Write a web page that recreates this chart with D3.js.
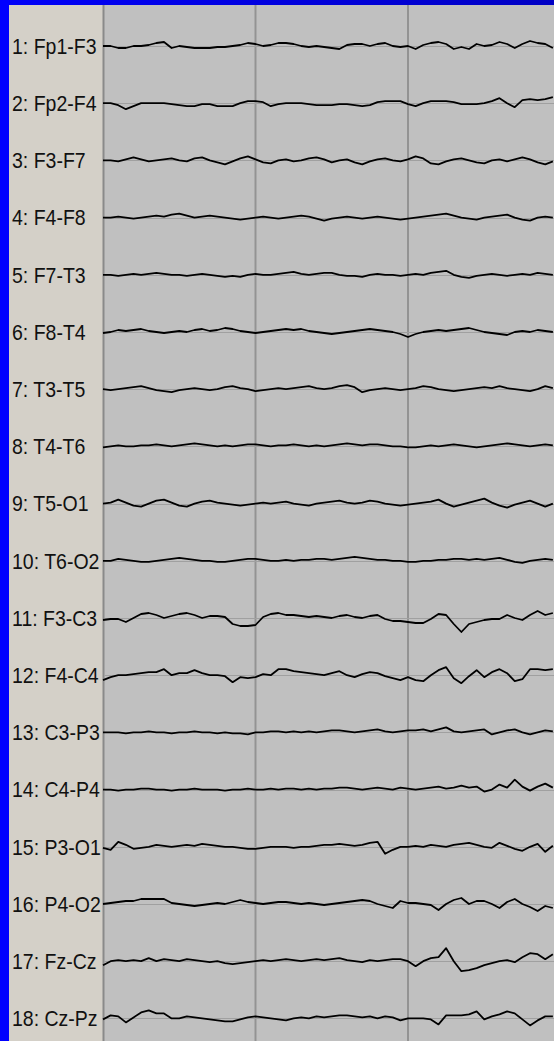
<!DOCTYPE html>
<html><head><meta charset="utf-8">
<script src="https://cdn.jsdelivr.net/npm/d3@7"></script>
<style>html,body{margin:0;padding:0;background:#c0c0c0;overflow:hidden}svg{display:block}</style>
</head><body><svg id="c" width="554" height="1041"></svg>
<script>
// Montage channel labels
const channels = ["1: Fp1-F3","2: Fp2-F4","3: F3-F7","4: F4-F8","5: F7-T3","6: F8-T4","7: T3-T5","8: T4-T6","9: T5-O1","10: T6-O2","11: F3-C3","12: F4-C4","13: C3-P3","14: C4-P4","15: P3-O1","16: P4-O2","17: Fz-Cz","18: Cz-Pz"];
// sampling interval (s) and second grid marks
const dt = 0.05;
const gridSeconds = [1, 2];
// Channel traces (µV, sample every dt seconds)
const ch1  = [0,0,-2,-2,0,0,1,3,4,-2,0,-1,-2,-2,-2,-1,-1,0,1,3,2,0,1,3,3,2,0,-1,0,-1,-2,-3,1,2,2,0,2,3,0,-1,0,-3,1,3,4,2,-3,-1,-3,2,0,1,4,2,-2,2,5,3,2,-2];
const ch2  = [0,0,-2,-6,-3,0,0,0,0,-1,-2,-3,-3,-1,-1,-3,-3,-3,0,2,2,1,-3,-1,0,0,0,-1,-2,-2,-2,-1,-1,-2,-3,-2,1,2,2,2,-1,-3,0,2,2,2,1,-1,-1,-1,0,2,5,0,-4,3,4,3,4,6];
const ch3  = [0,0,-1,1,3,1,-1,0,1,2,0,-1,2,3,0,-2,-4,-1,2,4,1,-2,-3,0,1,-1,0,2,3,1,-2,0,1,-2,-4,-1,1,2,0,-1,1,4,2,-3,-4,-1,1,2,0,-2,-3,0,1,-1,1,3,1,-2,-4,-1];
const ch4  = [0,0,1,0,-1,0,1,2,1,3,4,2,0,1,2,1,0,-1,-2,-1,0,1,0,-1,0,1,2,1,-1,-3,-1,0,1,0,-1,0,1,0,-1,-2,-1,0,1,2,3,4,2,0,-1,-2,0,1,2,3,0,-2,-3,0,1,0];
const ch5  = [0,0,-1,0,1,0,1,2,1,0,0,-1,0,1,0,-1,-2,-1,-2,0,1,0,0,1,2,3,1,0,1,2,2,0,-1,-1,-2,0,1,0,0,-1,0,1,0,2,3,4,0,-2,-3,-1,0,1,0,-1,0,1,0,2,1,0];
const ch6  = [-1,0,2,1,2,3,1,0,-1,0,1,0,2,3,1,2,4,3,1,0,-1,0,1,2,3,2,3,1,0,-1,-2,-1,0,1,2,3,2,1,0,-2,-5,-2,0,1,2,1,2,3,4,2,0,-1,-2,-3,0,1,0,2,1,0];
const ch7  = [0,-1,0,1,2,3,1,-1,-2,-3,-1,0,1,0,-1,0,2,3,1,0,-2,-1,0,1,0,1,2,3,1,0,1,3,4,2,-3,-1,0,1,0,-1,0,1,3,2,0,-1,-2,-1,0,1,2,1,3,1,0,-1,-2,0,3,1];
const ch8  = [-1,0,1,0,0,1,1,2,1,0,1,2,3,2,1,0,1,0,1,2,2,1,0,1,1,2,1,0,1,0,1,2,3,2,1,2,2,1,0,0,-1,-1,0,1,0,1,2,1,0,-1,0,1,2,3,2,1,0,1,2,1];
const ch9  = [0,1,4,1,-2,-3,0,3,4,1,-2,-3,0,2,3,1,0,-1,-2,-1,0,1,0,1,2,0,-1,-2,0,1,2,3,1,0,1,3,2,0,-1,-2,-1,0,1,2,4,0,-3,-1,1,3,5,1,-2,-4,-1,1,3,0,-3,0];
const ch10 = [0,0,2,1,0,-1,-1,0,1,2,3,2,1,0,0,-1,-1,0,1,2,2,1,0,0,1,0,1,1,2,2,1,2,3,4,3,2,1,1,0,0,-1,-1,0,0,1,1,2,2,1,2,1,2,3,1,-1,-2,0,1,2,1];
const ch11 = [-2,-1,-1,-4,0,4,5,3,0,2,4,5,3,0,2,2,1,-6,-8,-8,-7,1,4,5,3,3,2,1,2,1,0,2,3,1,0,2,3,-1,-3,-3,-4,-5,-5,-1,4,3,-6,-14,-6,-4,-2,-1,-1,3,0,-2,3,7,3,5];
const ch12 = [-5,-2,0,0,1,2,3,3,6,0,2,2,5,2,0,0,-1,-7,-2,-3,-2,1,0,6,6,4,3,2,1,0,2,4,0,-2,1,3,2,-1,-3,-5,-2,-5,-6,0,5,8,-3,-8,-1,5,-2,3,6,2,-6,-4,6,6,5,6];
const ch13 = [0,0,0,-1,0,0,1,0,0,-1,0,0,1,0,0,-1,0,-1,-1,-2,0,0,1,1,0,1,0,1,0,1,2,2,1,0,1,2,3,1,0,1,2,2,3,1,3,5,1,0,1,2,3,-2,0,2,3,0,-2,0,2,1];
const ch14 = [0,0,-1,0,0,1,1,0,0,-1,0,0,1,0,0,0,-1,0,0,1,0,0,1,0,1,1,0,1,0,1,1,2,2,1,0,1,2,1,0,2,1,0,1,2,3,1,2,4,2,3,-2,0,5,2,10,3,-1,3,6,2];
const ch15 = [-1,-3,5,2,-2,-1,0,2,1,0,1,2,1,3,2,1,0,0,-1,-2,-2,-1,0,0,0,-1,0,0,1,2,2,3,2,1,2,4,5,-7,-3,0,0,1,0,2,1,0,2,3,4,2,0,-1,4,1,-2,-4,0,3,-5,1];
const ch16 = [0,1,2,3,3,5,5,5,5,1,0,-1,-2,-1,0,1,0,2,4,2,1,0,1,2,2,1,0,1,0,-1,0,1,2,3,4,3,0,-2,-4,3,1,1,0,-1,-6,0,4,6,0,3,3,0,-4,2,5,0,-3,-7,-2,-4];
const ch17 = [-4,0,1,0,1,0,3,0,2,1,0,2,1,0,-1,0,-2,-3,-2,-1,0,1,0,1,2,1,0,1,2,1,2,3,1,0,-1,1,0,1,2,2,0,-5,0,3,4,13,0,-10,-9,-7,-4,-2,0,1,-1,4,8,7,2,7];
const ch18 = [-1,3,2,-4,1,6,8,5,5,0,0,2,1,0,-1,-2,-3,-3,-1,1,2,1,0,-1,-2,0,1,0,2,1,2,3,3,2,1,2,0,2,1,-2,0,0,0,-1,-6,3,3,3,4,7,-1,2,4,7,5,-1,-7,-2,2,2];
const traces = [ch1,ch2,ch3,ch4,ch5,ch6,ch7,ch8,ch9,ch10,ch11,ch12,ch13,ch14,ch15,ch16,ch17,ch18];

const W = 554, H = 1041;
const svg = d3.select("#c");
const border = 9, topH = 5, plotLeft = 103;

// time scale: 152.5 px per second
const x = d3.scaleLinear().domain([0, 1]).range([plotLeft, plotLeft + 152.5]);
// channel baseline positions
const yCh = d3.scalePoint().domain(channels).range([46, 46 + 17 * 57.2]);
// amplitude scale (µV -> px offset)
const amp = d3.scaleLinear().domain([-28.6, 28.6]).range([28.6, -28.6]);

// backgrounds
const defs = svg.append("defs");
const g = defs.append("linearGradient").attr("id", "tb").attr("x1", 0).attr("x2", 1);
g.append("stop").attr("offset", 0).attr("stop-color", "#0000f8");
g.append("stop").attr("offset", 1).attr("stop-color", "#0000c4");
svg.append("rect").attr("x", 0).attr("y", 0).attr("width", W).attr("height", H).attr("fill", "#c0c0c0");
svg.append("rect").attr("x", border).attr("y", topH).attr("width", plotLeft - border).attr("height", H - topH).attr("fill", "#d4d0c8");
svg.append("rect").attr("x", 0).attr("y", 0).attr("width", border).attr("height", H).attr("fill", "#0000ff");
svg.append("rect").attr("x", border).attr("y", 0).attr("width", W - border).attr("height", topH).attr("fill", "url(#tb)");
svg.append("rect").attr("x", 0).attr("y", 0).attr("width", border).attr("height", topH).attr("fill", "#0000ff");

// separator
svg.append("line").attr("x1", plotLeft + 0.5).attr("x2", plotLeft + 0.5).attr("y1", topH).attr("y2", H)
  .attr("stroke", "#8a8a8a").attr("stroke-width", 2);

// second grid lines
svg.selectAll("line.grid").data(gridSeconds).enter().append("line").attr("class", "grid")
  .attr("x1", d => x(d)).attr("x2", d => x(d)).attr("y1", topH).attr("y2", H)
  .attr("stroke", "#939393").attr("stroke-width", 2);

// baselines
svg.selectAll("line.base").data(channels).enter().append("line").attr("class", "base")
  .attr("x1", plotLeft + 1.5).attr("x2", W).attr("y1", d => Math.round(yCh(d)) + 0.5).attr("y2", d => Math.round(yCh(d)) + 0.5)
  .attr("stroke", "#a0a0a0").attr("stroke-width", 1);

// labels
svg.selectAll("text.lab").data(channels).enter().append("text").attr("class", "lab")
  .attr("transform", d => `translate(12,${yCh(d)}) scale(1,1.12)`)
  .attr("dy", "0.36em")
  .attr("font-family", "Liberation Sans, Arial, sans-serif").attr("font-size", 19.5)
  .attr("fill", "#111").text(d => d);

// traces
const line = d3.line().x((v, i) => x(i * dt)).y(v => v).curve(d3.curveLinear);
svg.selectAll("path.tr").data(traces).enter().append("path").attr("class", "tr")
  .attr("d", (vals, ci) => line(vals.map(v => yCh(channels[ci]) + amp(v))))
  .attr("fill", "none").attr("stroke", "#000").attr("stroke-width", 1.8).attr("stroke-linejoin", "round");
</script></body></html>
